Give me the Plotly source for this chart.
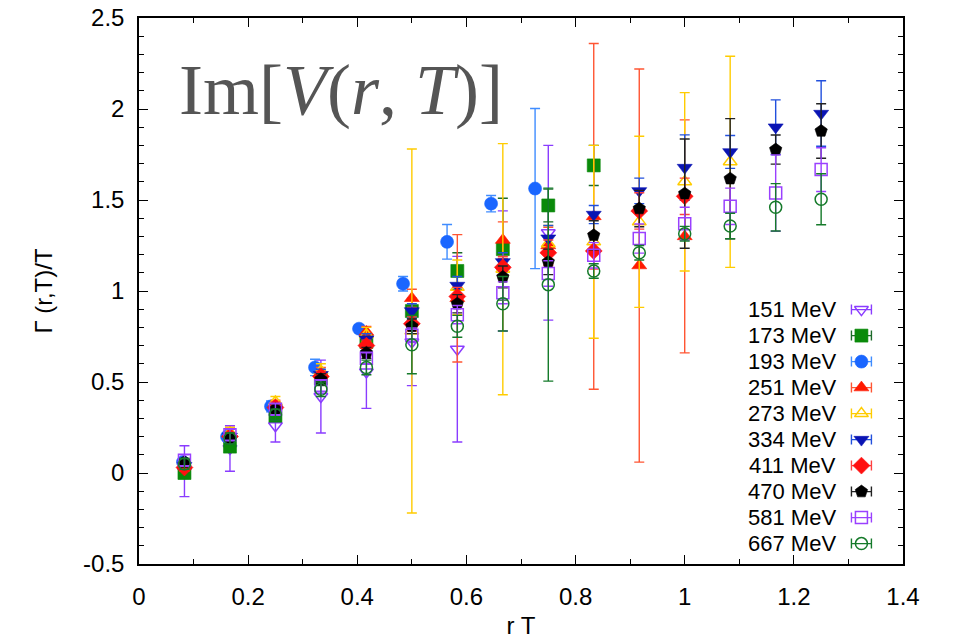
import plotly.graph_objects as go

# ---------------- data ----------------
rT = [0.0833, 0.1667, 0.25, 0.3333, 0.4167, 0.5, 0.5833, 0.6667, 0.75, 0.8333,
      0.9167, 1.0, 1.0833, 1.1667, 1.25]
rT_193 = [0.0806, 0.1613, 0.2419, 0.3226, 0.4032, 0.4839, 0.5645, 0.6452, 0.7258]

labels = ["151 MeV", "173 MeV", "193 MeV", "251 MeV", "273 MeV",
          "334 MeV", "411 MeV", "470 MeV", "581 MeV", "667 MeV"]

v151 = [0.01, 0.135, 0.26, 0.42, 0.555, 0.72, 0.68, 1.11, 1.32]
e151 = [0.14, 0.125, 0.09, 0.20, 0.20, 0.24, 0.51, 0.33, 0.48]

v173 = [0.0, 0.145, 0.315, 0.52, 0.72, 0.89, 1.11, 1.23, 1.47, 1.69]
e173 = [0.03, 0.03, 0.03, 0.04, 0.05, 0.06, 0.10, 0.28, 0.09, 0.11]

v193 = [0.06, 0.20, 0.366, 0.58, 0.793, 1.04, 1.27, 1.48, 1.563]
e193 = [0.02, 0.02, 0.03, 0.045, 0.02, 0.04, 0.095, 0.045, 0.44]

v251 = [0.05, 0.22, 0.37, 0.55, 0.775, 0.96, 0.96, 1.28, 1.25, 1.41, 1.14, 1.30]
e251 = [0.02, 0.03, 0.03, 0.03, 0.03, 0.05, 0.35, 0.10, 0.10, 0.95, 1.08, 0.64]

v273 = [0.05, 0.22, 0.39, 0.56, 0.76, 0.78, 1.02, 1.12, 1.26, 1.27, 1.38, 1.60, 1.71]
e273 = [0.02, 0.03, 0.03, 0.04, 0.04, 1.00, 0.15, 0.69, 0.10, 0.53, 0.47, 0.49, 0.58]

v334 = [0.04, 0.20, 0.35, 0.54, 0.735, 0.89, 1.03, 1.16, 1.29, 1.42, 1.55, 1.678, 1.764, 1.90, 1.975]
e334 = [0.02, 0.02, 0.03, 0.03, 0.03, 0.04, 0.05, 0.05, 0.07, 0.05, 0.07, 0.18, 0.09, 0.15, 0.18]

v411 = [0.03, 0.20, 0.36, 0.53, 0.70, 0.82, 0.97, 1.13, 1.21, 1.22, 1.44, 1.52]
e411 = [0.02, 0.02, 0.03, 0.03, 0.03, 0.04, 0.05, 0.06, 0.07, 0.10, 0.10, 0.10]

v470 = [0.06, 0.19, 0.35, 0.515, 0.66, 0.806, 0.93, 1.077, 1.16, 1.306, 1.453, 1.535, 1.617, 1.777, 1.879]
e470 = [0.02, 0.02, 0.03, 0.03, 0.03, 0.04, 0.05, 0.06, 0.07, 0.08, 0.10, 0.30, 0.33, 0.08, 0.15]

v581 = [0.07, 0.21, 0.35, 0.48, 0.63, 0.757, 0.87, 0.99, 1.096, 1.196, 1.288, 1.37, 1.465, 1.538, 1.667]
e581 = [0.03, 0.03, 0.03, 0.03, 0.03, 0.04, 0.05, 0.06, 0.07, 0.07, 0.08, 0.09, 0.10, 0.21, 0.12]

v667 = [0.05, 0.19, 0.32, 0.46, 0.58, 0.705, 0.806, 0.93, 1.035, 1.11, 1.21, 1.315, 1.357, 1.46, 1.504]
e667 = [0.03, 0.03, 0.03, 0.04, 0.04, 0.16, 0.06, 0.15, 0.53, 0.04, 0.04, 0.04, 0.07, 0.13, 0.14]

y_ticks = [-0.5, 0, 0.5, 1, 1.5, 2, 2.5]
y_ticktext = ["-0.5", "0", "0.5", "1", "1.5", "2", "2.5"]

# ---------------- styles ----------------
series = [
    (rT,     v151, e151, "triangle-down-open", "#8a3cff", "#8a3cff"),
    (rT,     v173, e173, "square",             "#0a8a0a", "#1d6b2a"),
    (rT_193, v193, e193, "circle",             "#1a66ff", "#3f8cff"),
    (rT,     v251, e251, "triangle-up",        "#ff1a00", "#ff5533"),
    (rT,     v273, e273, "triangle-up-open",   "#ffcc00", "#ffcc00"),
    (rT,     v334, e334, "triangle-down",      "#0a14b4", "#2250dd"),
    (rT,     v411, e411, "diamond",            "#ff1010", "#ff4040"),
    (rT,     v470, e470, "pentagon",           "#000000", "#222222"),
    (rT,     v581, e581, "square-open",        "#9a40ff", "#9a40ff"),
    (rT,     v667, e667, "circle-open",        "#157a2a", "#157a2a"),
]

fig = go.Figure()
for (xs, ys, es, sym, col, ecol), name in zip(series, labels):
    n = len(ys)
    opened = sym.endswith("open")
    fig.add_trace(go.Scatter(
        x=xs[:n], y=ys, mode="markers", name=name, showlegend=False,
        marker=dict(symbol=sym, size=13 if not opened else 12, color=col,
                    line=dict(color=col, width=1.5 if opened else 0.6)),
        error_y=dict(type="data", array=es, color=ecol, thickness=1.4, width=5),
    ))

# ---------------- legend (gnuplot style: text then key) ----------------
W0, W1, H0, H1 = 138.7, 903.3, 17.7, 563.7
key_px = 861.7
text_px = 837.0
row0 = 309.3
row_step = 26.0
fx_key = (key_px - W0) / (W1 - W0)
fx_txt = (text_px - W0) / (W1 - W0)
for i, ((xs, ys, es, sym, col, ecol), name) in enumerate(zip(series, labels)):
    fy = (H1 - (row0 + row_step * i)) / (H1 - H0)
    opened = sym.endswith("open")
    fig.add_trace(go.Scatter(
        x=[fx_key], y=[fy], xaxis="x2", yaxis="y2", mode="markers",
        showlegend=False, hoverinfo="skip",
        marker=dict(symbol=sym, size=13 if not opened else 12, color=col,
                    line=dict(color=col, width=1.5 if opened else 0.6)),
        error_x=dict(type="data", array=[10.0 / (W1 - W0)], color=ecol,
                     thickness=1.4, width=5),
    ))
    fig.add_annotation(x=fx_txt, y=fy, xref="x2", yref="y2", text=name,
                       showarrow=False, xanchor="right", yanchor="middle",
                       borderpad=0,
                       font=dict(family="Liberation Sans, Arial", size=22,
                                 color="black"))

fig.add_annotation(x=0.05, y=(H1 - 90) / (H1 - H0), xref="x2", yref="y2",
                   text="Im[<i>V</i>(<i>r</i>, <i>T</i>)]", showarrow=False,
                   xanchor="left", yanchor="middle",
                   font=dict(family="Liberation Serif, Times New Roman", size=72,
                             color="#555555"))

axis_font = dict(family="Liberation Sans, Arial", size=24, color="black")
fig.update_layout(
    width=953, height=639,
    margin=dict(l=139, r=50, t=18, b=75, autoexpand=False),
    paper_bgcolor="white", plot_bgcolor="white",
    showlegend=False,
    font=axis_font,
    xaxis=dict(range=[0, 1.4], dtick=0.2, tick0=0, showgrid=False, zeroline=False,
               automargin=False,
               showline=True, linecolor="black", linewidth=1.5, mirror="ticks",
               ticks="inside", ticklen=9, tickwidth=1.2, tickcolor="black",
               minor=dict(dtick=0.1, ticks="inside", ticklen=5, tickcolor="black",
                          tickwidth=1.0, showgrid=False),
               tickfont=axis_font, ticklabelstandoff=10,
               title=dict(text="r T", font=axis_font, standoff=28)),
    yaxis=dict(range=[-0.5, 2.5], tickvals=y_ticks, ticktext=y_ticktext,
               showgrid=False, zeroline=False, automargin=False,
               showline=True, linecolor="black", linewidth=1.5, mirror="ticks",
               ticks="inside", ticklen=9, tickwidth=1.2, tickcolor="black",
               minor=dict(dtick=0.1, ticks="inside", ticklen=5, tickcolor="black",
                          tickwidth=1.0, showgrid=False),
               tickfont=axis_font, ticklabelstandoff=8,
               title=dict(text="Γ (r,T)/T", font=dict(family="Liberation Sans, Arial",
                                                       size=24, color="black"),
                          standoff=24)),
    xaxis2=dict(range=[0, 1], overlaying="x", anchor="y2", visible=False),
    yaxis2=dict(range=[0, 1], overlaying="y", anchor="x2", visible=False),
)

fig.write_html("out.html")
